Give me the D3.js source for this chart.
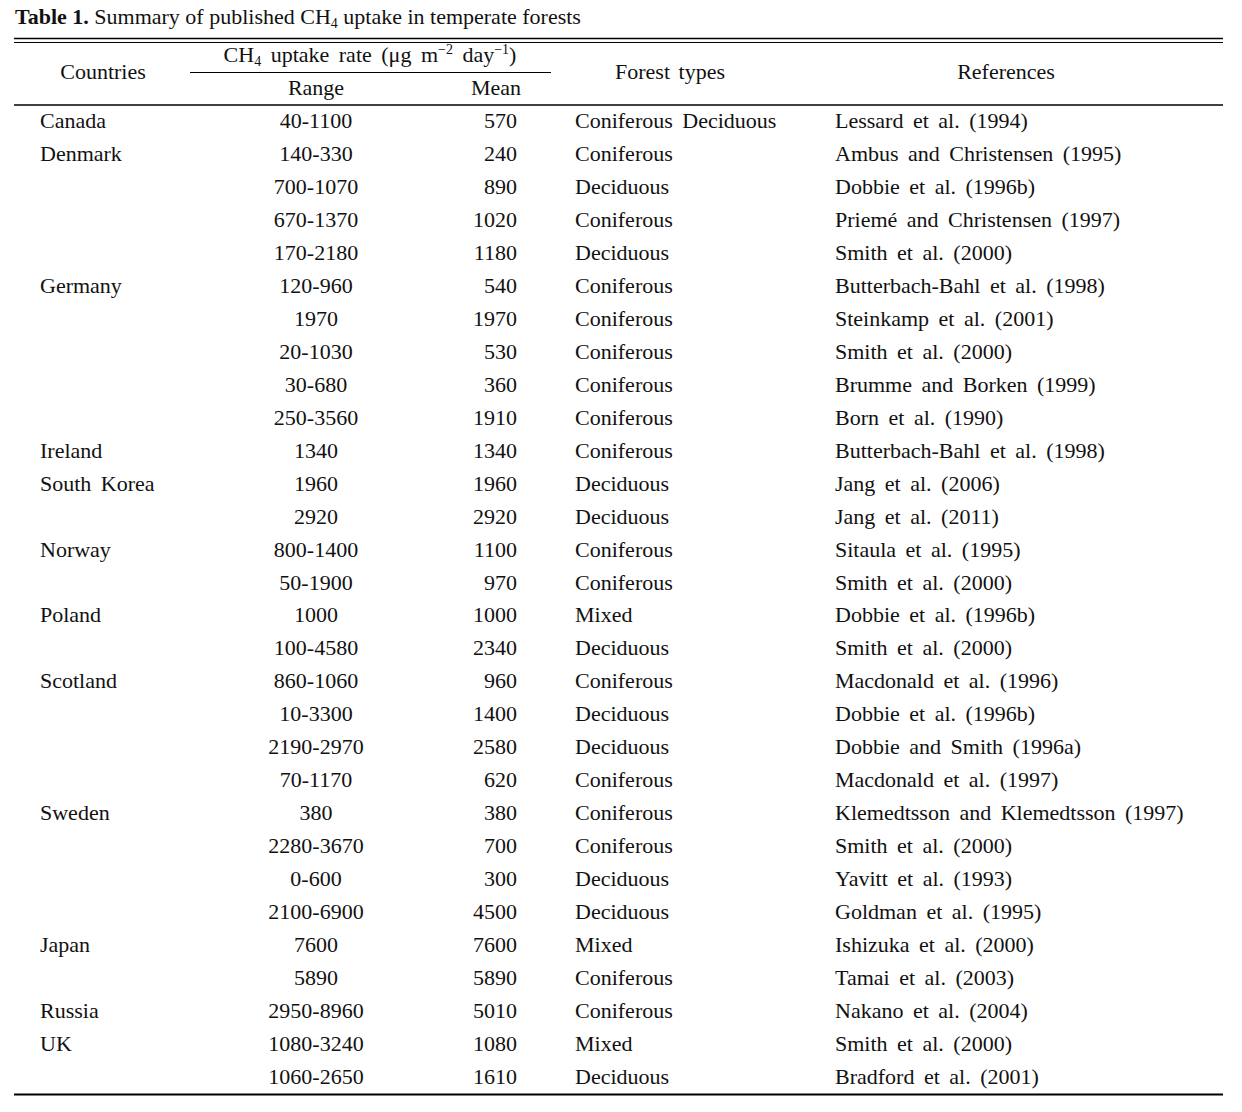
<!DOCTYPE html>
<html><head><meta charset="utf-8">
<script src="https://cdn.jsdelivr.net/npm/d3@7"></script>
<style>
body{margin:0;background:#fff;}
text{font-family:"Liberation Serif","Times New Roman",serif;fill:#111;}
</style></head>
<body><svg id="c" width="1242" height="1112"></svg>
<script>
const countries = ["Canada","Denmark","","","","Germany","","","","","Ireland","South Korea","","Norway","","Poland","","Scotland","","","","Sweden","","","","Japan","","Russia","UK",""];
const ranges = ["40-1100","140-330","700-1070","670-1370","170-2180","120-960","1970","20-1030","30-680","250-3560","1340","1960","2920","800-1400","50-1900","1000","100-4580","860-1060","10-3300","2190-2970","70-1170","380","2280-3670","0-600","2100-6900","7600","5890","2950-8960","1080-3240","1060-2650"];
const means = [570,240,890,1020,1180,540,1970,530,360,1910,1340,1960,2920,1100,970,1000,2340,960,1400,2580,620,380,700,300,4500,7600,5890,5010,1080,1610];
const forestTypes = ["Coniferous Deciduous","Coniferous","Deciduous","Coniferous","Deciduous","Coniferous","Coniferous","Coniferous","Coniferous","Coniferous","Coniferous","Deciduous","Deciduous","Coniferous","Coniferous","Mixed","Deciduous","Coniferous","Deciduous","Deciduous","Coniferous","Coniferous","Coniferous","Deciduous","Deciduous","Mixed","Coniferous","Coniferous","Mixed","Deciduous"];
const references = ["Lessard et al. (1994)","Ambus and Christensen (1995)","Dobbie et al. (1996b)","Priemé and Christensen (1997)","Smith et al. (2000)","Butterbach-Bahl et al. (1998)","Steinkamp et al. (2001)","Smith et al. (2000)","Brumme and Borken (1999)","Born et al. (1990)","Butterbach-Bahl et al. (1998)","Jang et al. (2006)","Jang et al. (2011)","Sitaula et al. (1995)","Smith et al. (2000)","Dobbie et al. (1996b)","Smith et al. (2000)","Macdonald et al. (1996)","Dobbie et al. (1996b)","Dobbie and Smith (1996a)","Macdonald et al. (1997)","Klemedtsson and Klemedtsson (1997)","Smith et al. (2000)","Yavitt et al. (1993)","Goldman et al. (1995)","Ishizuka et al. (2000)","Tamai et al. (2003)","Nakano et al. (2004)","Smith et al. (2000)","Bradford et al. (2001)"];
const headers = ["Countries","Range","Mean","Forest types","References"];

const svg = d3.select("#c");
const FS = 22;
const y = d3.scalePoint().domain(d3.range(ranges.length)).range([121,1077]);

// Title
const t = svg.append("text").attr("x",15).attr("y",24).style("font-size","22px");
t.append("tspan").attr("font-weight","bold").text("Table 1.");
t.append("tspan").text(" Summary of published CH");
t.append("tspan").attr("dy",4).style("font-size","14px").text("4");
t.append("tspan").attr("dy",-4).text(" uptake in temperate forests");

// rules
const line = (x1,x2,yy,w)=>svg.append("line").attr("x1",x1).attr("x2",x2).attr("y1",yy).attr("y2",yy).attr("stroke","#000").attr("stroke-width",w);
line(14,1223,38.5,1.6);
line(14,1223,42.5,1.2);
line(190,551,72.5,1.2);
line(14,1223,105,1.4);
line(14,1223,1094.5,1.8);

// headers
const hdr = (x,yy,txt,anchor)=>svg.append("text").attr("x",x).attr("y",yy).attr("text-anchor",anchor).style("font-size",FS+"px").style("word-spacing","3px").text(txt);
hdr(103,79,headers[0],"middle");
hdr(316,95,headers[1],"middle");
hdr(496,95,headers[2],"middle");
hdr(670,79,headers[3],"middle");
hdr(1006,79,headers[4],"middle");
const h2 = svg.append("text").attr("x",370).attr("y",62).attr("text-anchor","middle").style("font-size",FS+"px").style("word-spacing","4px");
h2.append("tspan").text("CH");
h2.append("tspan").attr("dy",4).style("font-size","14px").text("4");
h2.append("tspan").attr("dy",-4).text(" uptake rate (μg m");
h2.append("tspan").attr("dy",-8).style("font-size","14px").text("−2");
h2.append("tspan").attr("dy",8).text(" day");
h2.append("tspan").attr("dy",-8).style("font-size","14px").text("−1");
h2.append("tspan").attr("dy",8).text(")");

// body
const rows = svg.append("g").selectAll("g").data(d3.range(ranges.length)).join("g")
  .attr("transform",i=>`translate(0,${y(i)+7})`)
  .style("font-size",FS+"px").style("word-spacing","4px");
rows.append("text").attr("x",40).text(i=>countries[i]);
rows.append("text").attr("x",316).attr("text-anchor","middle").text(i=>ranges[i]);
rows.append("text").attr("x",517).attr("text-anchor","end").text(i=>means[i]);
rows.append("text").attr("x",575).text(i=>forestTypes[i]);
rows.append("text").attr("x",835).text(i=>references[i]);
</script></body></html>
